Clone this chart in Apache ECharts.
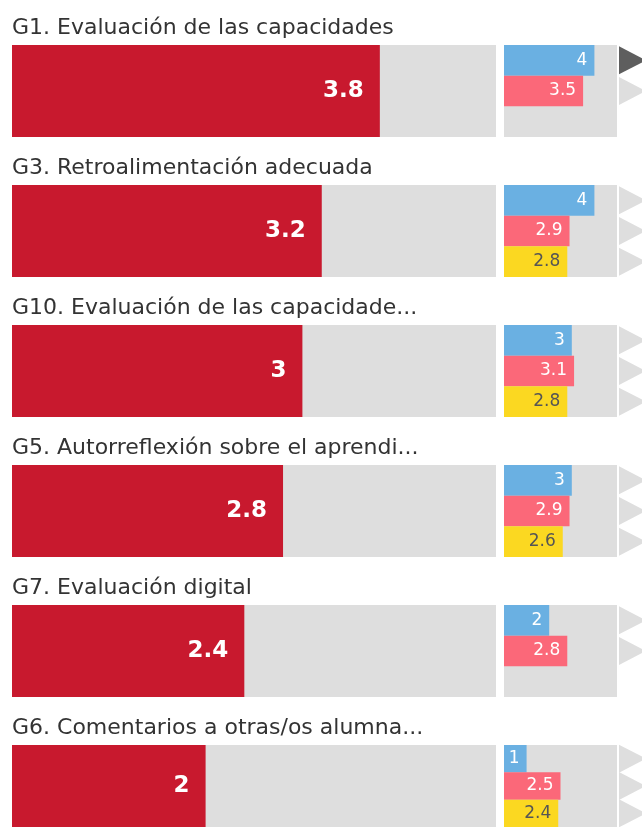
<!DOCTYPE html>
<html>
<head>
<meta charset="utf-8">
<script src="https://cdn.jsdelivr.net/npm/echarts@6/dist/echarts.min.js"></script>
<style>
  html, body { margin: 0; padding: 0; background: #fff; }
  #chart { width: 642px; height: 827px; }
</style>
</head>
<body>
<div id="chart"></div>
<script>
// datos por fila (de arriba a abajo)
var rowTitles = [
  'G1. Evaluación de las capacidades',
  'G3. Retroalimentación adecuada',
  'G10. Evaluación de las capacidade...',
  'G5. Autorreflexión sobre el aprendi...',
  'G7. Evaluación digital',
  'G6. Comentarios a otras/os alumna...'
];
var mainScores   = [3.8, 3.2, 3, 2.8, 2.4, 2];
var blueScores   = [4, 4, 3, 3, 2, 1];
var pinkScores   = [3.5, 2.9, 3.1, 2.9, 2.8, 2.5];
var yellowScores = [null, 2.8, 2.8, 2.6, null, 2.4];
var activeMarker = [0, -1, -1, -1, -1, -1]; // indice del triangulo oscuro
var scaleMax = 5;

var chart = echarts.init(document.getElementById('chart'));

var FONT = 'DejaVu Sans';
var RED = '#C8192E', GREY = '#DEDEDE';
var BLUE = '#6AB0E2', PINK = '#FB6879', YELLOW = '#FBD821';

var rowPitch = 140, barTop = 45, barH = 92;
var titles = [], grids = [], xAxes = [], yAxes = [], series = [];

rowTitles.forEach(function (t, i) {
  var top = barTop + i * rowPitch;
  titles.push({
    text: t, left: 12, top: top - 28, padding: 0,
    textStyle: { fontFamily: FONT, fontSize: 22, fontWeight: 'normal', color: '#333' }
  });

  // barra principal
  var g = grids.length;
  grids.push({ left: 12, width: 484, top: top, height: barH, show: true, backgroundColor: GREY, borderWidth: 0 });
  xAxes.push({ gridIndex: g, type: 'value', min: 0, max: scaleMax, show: false });
  yAxes.push({ gridIndex: g, type: 'category', data: ['m'], show: false });
  series.push({
    type: 'bar', xAxisIndex: g, yAxisIndex: g, barWidth: '100%',
    data: [mainScores[i]],
    itemStyle: { color: RED },
    label: { show: true, position: 'insideRight', distance: 16, color: '#fff',
             fontFamily: FONT, fontSize: 23, fontWeight: 'bold' },
    silent: true
  });

  // barras pequeñas
  var g2 = grids.length;
  grids.push({ left: 504, width: 113, top: top, height: barH, show: true, backgroundColor: GREY, borderWidth: 0 });
  xAxes.push({ gridIndex: g2, type: 'value', min: 0, max: scaleMax, show: false });
  yAxes.push({ gridIndex: g2, type: 'category', data: ['a', 'b', 'c'], inverse: true, show: false });
  var vals = [blueScores[i], pinkScores[i], yellowScores[i]];
  var cols = [BLUE, PINK, YELLOW];
  var txt = ['#fff', '#fff', '#555'];
  series.push({
    type: 'bar', xAxisIndex: g2, yAxisIndex: g2, barCategoryGap: 0,
    data: vals.map(function (v, k) {
      return v == null ? '-' : { value: v, itemStyle: { color: cols[k] }, label: { color: txt[k] } };
    }),
    label: { show: true, position: 'insideRight', distance: 7, fontFamily: FONT, fontSize: 17 },
    silent: true
  });

  // triangulos
  var g3 = grids.length;
  grids.push({ left: 623, width: 27, top: top, height: barH });
  xAxes.push({ gridIndex: g3, type: 'category', data: ['m'], show: false });
  yAxes.push({ gridIndex: g3, type: 'category', data: ['a', 'b', 'c'], inverse: true, show: false });
  var marks = [];
  vals.forEach(function (v, k) {
    if (v != null) marks.push({ value: ['m', ['a', 'b', 'c'][k]],
      itemStyle: { color: activeMarker[i] === k ? '#5E5E5E' : GREY } });
  });
  series.push({
    type: 'scatter', xAxisIndex: g3, yAxisIndex: g3,
    symbol: 'path://M0,0L1,0.5L0,1Z', symbolKeepAspect: false, symbolSize: [27, 28],
    itemStyle: { opacity: 1 },
    data: marks, silent: true
  });
});

chart.setOption({
  animation: false,
  title: titles,
  grid: grids,
  xAxis: xAxes,
  yAxis: yAxes,
  series: series
});
</script>
</body>
</html>
